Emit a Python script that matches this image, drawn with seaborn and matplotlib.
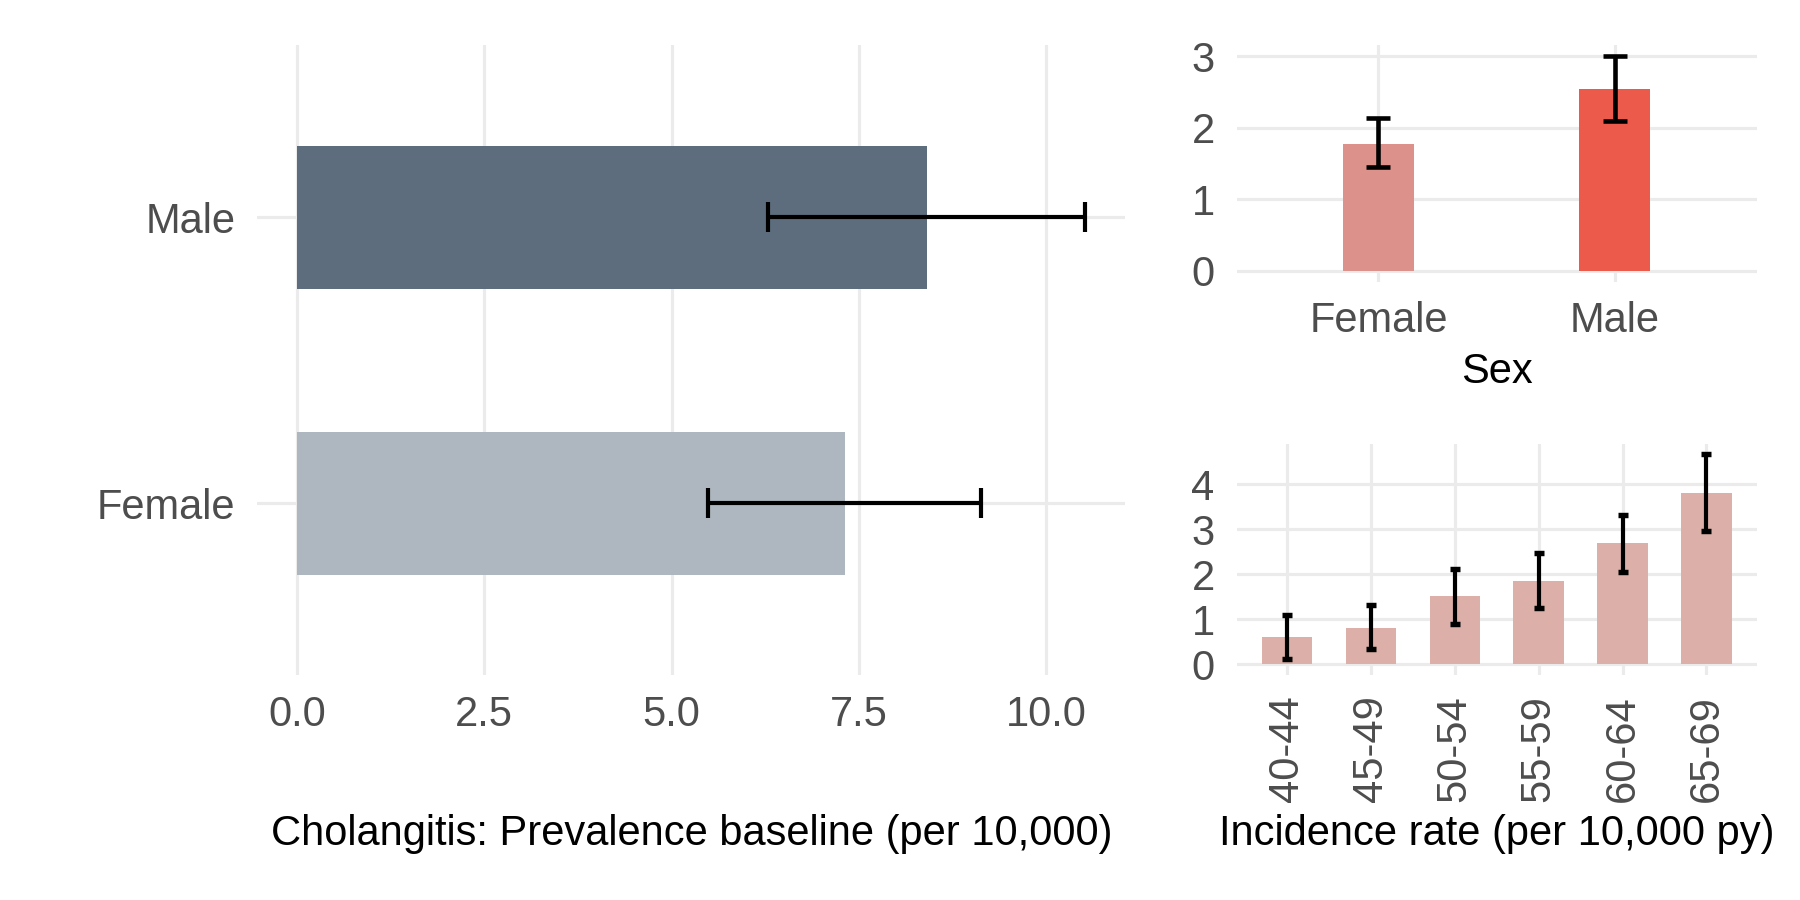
import numpy as np
import matplotlib
matplotlib.use("Agg")
import matplotlib.pyplot as plt
import seaborn as sns

# ---- data ----
prev_sex = ["Male", "Female"]
prev_val = [8.41, 7.31]
prev_lo = [6.29, 5.49]
prev_hi = [10.52, 9.13]

inc_sex = ["Female", "Male"]
inc_sex_val = [1.78, 2.54]
inc_sex_lo = [1.45, 2.09]
inc_sex_hi = [2.14, 3.00]

age_groups = ["40-44", "45-49", "50-54", "55-59", "60-64", "65-69"]
age_val = [0.60, 0.81, 1.51, 1.86, 2.69, 3.80]
age_lo = [0.13, 0.34, 0.90, 1.26, 2.06, 2.96]
age_hi = [1.10, 1.32, 2.13, 2.48, 3.32, 4.67]

prev_ticks = [0, 2.5, 5, 7.5, 10]
prev_ticklabels = ["0.0", "2.5", "5.0", "7.5", "10.0"]

sns.set_theme(style="white")
plt.rcParams["font.family"] = ["Liberation Sans", "DejaVu Sans"]

GRID = "#EBEBEB"
TICKC = "#4D4D4D"
FS = 20

fig = plt.figure(figsize=(12, 6), dpi=150)
ax_l = fig.add_axes([0.143, 0.25, 0.482, 0.6995])
ax_t = fig.add_axes([0.687, 0.687, 0.289, 0.2625])
ax_b = fig.add_axes([0.687, 0.25, 0.289, 0.257])


def style(ax):
    for s in ax.spines.values():
        s.set_visible(False)
    ax.set_axisbelow(True)
    ax.grid(True, color=GRID, linewidth=1.5)
    ax.tick_params(length=0, labelsize=FS, labelcolor=TICKC)
    ax.tick_params(axis="x", pad=9.5)
    ax.tick_params(axis="y", pad=10.5)


# ---- left: prevalence ----
sns.barplot(x=prev_val, y=prev_sex, hue=prev_sex, order=prev_sex,
            palette={"Male": "#5D6D7E", "Female": "#AEB6BF"}, saturation=1,
            orient="h", width=0.5, linewidth=0, legend=False, ax=ax_l)
pv = np.array(prev_val)
ax_l.errorbar(x=pv, y=np.arange(len(prev_sex)),
              xerr=[pv - np.array(prev_lo), np.array(prev_hi) - pv],
              fmt="none", ecolor="black", elinewidth=2.0, capsize=7, capthick=2.0)
ax_l.set_xlim(-0.526, 11.05)
ax_l.set_ylim(1.6, -0.6)
ax_l.set_xticks(prev_ticks)
ax_l.set_xticklabels(prev_ticklabels)
style(ax_l)
ax_l.set_ylabel("")
ax_l.set_xlabel("Cholangitis: Prevalence baseline (per 10,000)", fontsize=FS, color="black")
ax_l.xaxis.set_label_coords(0.3845, 0.061, transform=fig.transFigure)
ax_l.xaxis.label.set_va("baseline")

# ---- top right: incidence by sex ----
sns.barplot(x=inc_sex, y=inc_sex_val, hue=inc_sex, order=inc_sex,
            palette={"Female": "#DC928A", "Male": "#EB5A4A"}, saturation=1,
            width=0.3, linewidth=0, legend=False, ax=ax_t)
sv = np.array(inc_sex_val)
ax_t.errorbar(x=np.arange(len(inc_sex)), y=sv,
              yerr=[sv - np.array(inc_sex_lo), np.array(inc_sex_hi) - sv],
              fmt="none", ecolor="black", elinewidth=2.2, capsize=5.7, capthick=2.2)
ax_t.set_xlim(-0.6, 1.6)
ax_t.set_ylim(-0.15, 3.15)
ax_t.set_yticks([0, 1, 2, 3])
style(ax_t)
ax_t.set_ylabel("")
ax_t.set_xlabel("Sex", fontsize=FS, color="black")
ax_t.xaxis.set_label_coords(0.8315, 0.574, transform=fig.transFigure)
ax_t.xaxis.label.set_va("baseline")

# ---- bottom right: incidence by age ----
sns.barplot(x=age_groups, y=age_val, order=age_groups, color="#DCAFA8",
            saturation=1, width=0.6, linewidth=0, ax=ax_b)
av = np.array(age_val)
ax_b.errorbar(x=np.arange(len(age_groups)), y=av,
              yerr=[av - np.array(age_lo), np.array(age_hi) - av],
              fmt="none", ecolor="black", elinewidth=2.0, capsize=2.2, capthick=2.6)
ax_b.set_xlim(-0.6, 5.6)
ax_b.set_ylim(-0.2335, 4.9035)
ax_b.set_yticks([0, 1, 2, 3, 4])
style(ax_b)
for lab in ax_b.get_xticklabels():
    lab.set_rotation(90)
    lab.set_va("top")
    lab.set_ha("center")
ax_b.set_ylabel("")
ax_b.set_xlabel("Incidence rate (per 10,000 py)", fontsize=FS, color="black")
ax_b.xaxis.set_label_coords(0.8315, 0.061, transform=fig.transFigure)
ax_b.xaxis.label.set_va("baseline")

fig.savefig("out.png", dpi=150, facecolor="white")
